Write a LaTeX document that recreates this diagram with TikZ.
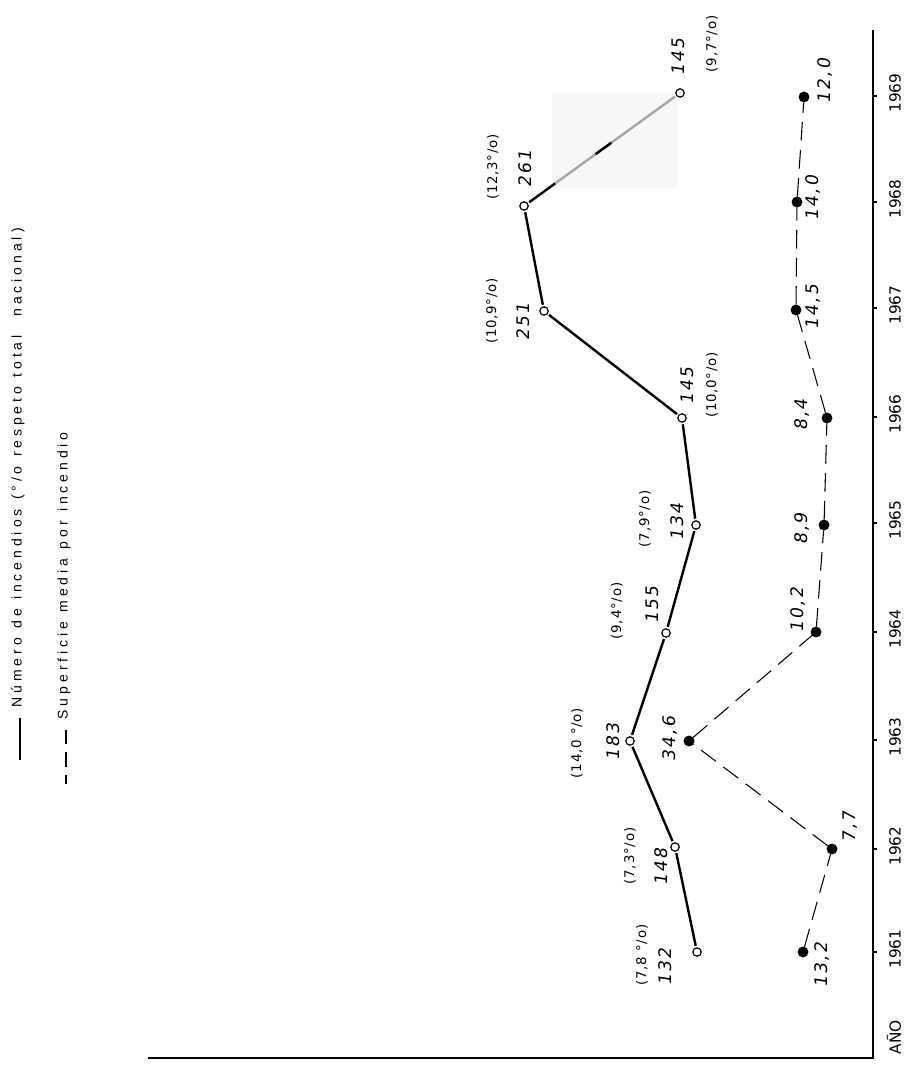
\documentclass[tikz,border=0pt]{standalone}
\usepackage{fontspec}
\setmainfont{DejaVu Sans}
\newfontfamily\legfont[LetterSpace=28]{Liberation Sans}
\newfontfamily\valfont[LetterSpace=12,FakeSlant=0.15]{DejaVu Sans}
\newfontfamily\pctfont[LetterSpace=6]{DejaVu Sans}
\newfontfamily\yrfont{DejaVu Sans}
\usetikzlibrary{calc}
\begin{document}
\begin{tikzpicture}[x=0.75pt,y=-0.75pt,
  opendot/.style={circle,draw,line width=0.9pt,inner sep=0pt,minimum size=6.3pt,outer sep=1.6pt},
  fulldot/.style={circle,fill,inner sep=0pt,minimum size=8.2pt,outer sep=0pt},
  solidline/.style={line width=1.8pt},
  dashline/.style={line width=0.8pt,dash pattern=on 14pt off 7pt},
  val/.style={rotate=90,font=\valfont\fontsize{13}{13}\selectfont,inner sep=0pt},
  pct/.style={rotate=90,font=\pctfont\fontsize{10}{10}\selectfont,inner sep=0pt},
  yr/.style={rotate=90,font=\yrfont\fontsize{11.5}{11.5}\selectfont,inner sep=0pt},
  leg/.style={rotate=90,font={\legfont\fontsize{10.5}{10.5}\selectfont\spaceskip=7pt plus 1pt\relax},inner sep=0pt}]
\useasboundingbox (0,0) rectangle (911,1069);
\fill[white] (0,0) rectangle (911,1069);
% shaded patch
\fill[gray!6] (552,93) rectangle (677,188);
% axes
\draw[line width=0.9pt] (873,30) -- (873,1058) -- (148,1058);
\foreach \yy/\lab in {952/1961,849/1962,740/1963,632/1964,523/1965,417/1966,308/1967,202/1968,96/1969}{
  \draw[line width=0.9pt] (873,\yy) -- (877,\yy);
  \node[yr] at (895,\yy-3) {\lab};
}
\node[yr] (ano) at (894,1037) {AÑO};
% open circles (number of fires)
\node[opendot] (o61) at (697,952) {};
\node[opendot] (o62) at (675,847) {};
\node[opendot] (o63) at (630,741) {};
\node[opendot] (o64) at (666,633) {};
\node[opendot] (o65) at (696,525) {};
\node[opendot] (o66) at (682,418) {};
\node[opendot] (o67) at (544,311) {};
\node[opendot] (o68) at (524,206) {};
\node[opendot] (o69) at (680,93) {};
% filled dots (mean area)
\node[fulldot] (f61) at (803,952) {};
\node[fulldot] (f62) at (832,849) {};
\node[fulldot] (f63) at (689,741) {};
\node[fulldot] (f64) at (816,632) {};
\node[fulldot] (f65) at (824,525) {};
\node[fulldot] (f66) at (827,418) {};
\node[fulldot] (f67) at (796,310) {};
\node[fulldot] (f68) at (797,202) {};
\node[fulldot] (f69) at (804,97) {};
% connectors
\draw[solidline] (o61) -- (o62) -- (o63) -- (o64) -- (o65) -- (o66) -- (o67) -- (o68);
\draw[solidline] (o68) -- ($(o68)!0.2!(o69)$);
\draw[solidline,gray!70] ($(o68)!0.2!(o69)$) -- (o69);
\draw[solidline] ($(o68)!0.46!(o69)$) -- ($(o68)!0.56!(o69)$);
\draw[dashline] (f61) -- (f62) -- (f63) -- (f64) -- (f65) -- (f66) -- (f67) -- (f68) -- (f69);
% value labels, open circles
\node[val] (v61) at (665,967) {132};
\node[pct] (p61) at (642,955) {(7,8 °/o)};
\node[val] (v62) at (661,867) {148};
\node[pct] (p62) at (630,856) {(7,3°/o)};
\node[val] (v63) at (613,742) {183};
\node[pct] (p63) at (577,743) {(14,0 °/o)};
\node[val] (v64) at (652,605) {155};
\node[pct] (p64) at (617,611) {(9,4°/o)};
\node[val] (v65) at (677,522) {134};
\node[pct] (p65) at (645,519) {(7,9°/o)};
\node[val] (v66) at (687,386) {145};
\node[pct] (p66) at (712,385) {(10,0°/o)};
\node[val] (v67) at (523,322) {251};
\node[pct] (p67) at (492,311) {(10,9°/o)};
\node[val] (v68) at (525,169) {261};
\node[pct] (p68) at (493,167) {(12,3°/o)};
\node[val] (v69) at (678,57) {145};
\node[pct] (p69) at (712,44) {(9,7°/o)};
% value labels, filled dots
\node[val] (w61) at (822,965) {13,2};
\node[val] (w62) at (850,827) {7,7};
\node[val] (w63) at (670,739) {34,6};
\node[val] (w64) at (798,610) {10,2};
\node[val] (w65) at (802,529) {8,9};
\node[val] (w66) at (802,415) {8,4};
\node[val] (w67) at (813,307) {14,5};
\node[val] (w68) at (813,198) {14,0};
\node[val] (w69) at (825,81) {12,0};
% legend
\node[leg,anchor=east] (t1) at (18,228) {Número de incendios (°/o respeto total~ na\kern3pt cional)};
\node[leg,anchor=east] (t2) at (64,432) {Superficie media por incendio};
\coordinate (l1a) at ($(t1.west)+(2,10)$);
\coordinate (l1b) at ($(t1.west)+(2,52)$);
\draw[solidline] (l1a) -- (l1b);
\coordinate (l2a) at ($(t2.west)+(2,10)$);
\coordinate (l2b) at ($(t2.west)+(2,64)$);
\draw[line width=0.8pt,dash pattern=on 11pt off 6pt] (l2a) -- (l2b);
\end{tikzpicture}
\end{document}
